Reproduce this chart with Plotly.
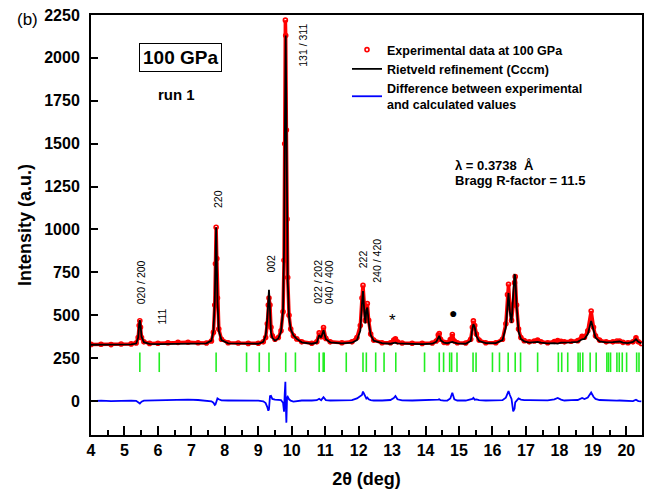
import plotly.graph_objects as go

# ---------------- data ----------------
two_theta = [4.00, 4.30, 4.60, 4.90, 5.20, 5.35, 5.41, 5.44, 5.46, 5.48, 5.51, 5.58, 5.75,
             6.00, 6.30, 6.60, 6.90, 7.20, 7.45, 7.60, 7.66, 7.70, 7.72, 7.74, 7.76, 7.78,
             7.82, 7.90, 8.10, 8.40, 8.70, 9.00, 9.15, 9.22, 9.27, 9.30, 9.32, 9.35, 9.38,
             9.42, 9.50, 9.60, 9.68, 9.74, 9.77, 9.79, 9.81, 9.82, 9.84, 9.86, 9.88, 9.92,
             9.97, 10.05, 10.15, 10.30, 10.60, 10.75, 10.82, 10.88, 10.95, 11.02, 11.15,
             11.50, 11.80, 11.95, 12.05, 12.10, 12.13, 12.17, 12.20, 12.23, 12.26, 12.30,
             12.36, 12.45, 12.70, 12.95, 13.05, 13.10, 13.16, 13.30, 13.60, 13.90, 14.20,
             14.32, 14.38, 14.41, 14.45, 14.55, 14.65, 14.74, 14.80, 14.86, 14.95, 15.20,
             15.35, 15.40, 15.43, 15.47, 15.52, 15.60, 15.80, 16.10, 16.30, 16.40, 16.45,
             16.48, 16.52, 16.57, 16.62, 16.66, 16.68, 16.72, 16.78, 16.85, 16.95, 17.10,
             17.25, 17.35, 17.45, 17.65, 17.85, 17.95, 18.05, 18.15, 18.35, 18.55, 18.68,
             18.75, 18.85, 18.95, 19.02, 19.08, 19.20, 19.40, 19.60, 19.72, 19.80, 19.90,
             20.05, 20.20, 20.29, 20.36, 20.45]

observed = [330, 331, 329, 332, 333, 338, 370, 440, 468, 430, 370, 345, 336,
            337, 340, 342, 343, 340, 338, 350, 400, 560, 800, 1013, 830, 600,
            420, 360, 340, 338, 336, 337, 345, 370, 450, 560, 600, 560, 430,
            380, 360, 370, 410, 520, 820, 1500, 2220, 2130, 1580, 1060, 720, 500,
            420, 380, 362, 345, 337, 345, 397, 375, 428, 365, 345,
            340, 345, 370, 440, 600, 674, 560, 470, 545, 568, 470,
            390, 355, 340, 340, 355, 362, 345, 338, 337, 336, 338,
            350, 385, 393, 360, 342, 340, 358, 388, 350, 340, 338,
            360, 430, 467, 440, 390, 355, 340, 340, 360, 450, 620,
            680, 560, 470, 560, 690, 725, 560, 420, 370, 352, 345,
            350, 355, 345, 340, 347, 352, 348, 345, 348, 352, 378,
            372, 410, 525, 430, 380, 355, 345, 345, 350, 350, 342,
            340, 345, 368, 345, 335]

calculated = [328, 328, 328, 329, 330, 335, 370, 450, 471, 445, 375, 343, 333,
              332, 333, 334, 335, 334, 336, 352, 410, 585, 830, 1013, 815, 580,
              410, 355, 336, 334, 333, 334, 345, 380, 480, 615, 648, 530, 400,
              368, 352, 365, 405, 530, 880, 1450, 2110, 2130, 1700, 1040, 700, 490,
              418, 383, 362, 342, 334, 340, 384, 370, 413, 360, 342,
              336, 340, 355, 410, 570, 641, 520, 452, 530, 545, 460,
              385, 352, 337, 334, 338, 340, 336, 334, 333, 332, 334,
              345, 375, 380, 355, 340, 337, 343, 345, 340, 336, 334,
              350, 420, 448, 430, 378, 350, 337, 338, 355, 430, 570,
              630, 520, 455, 620, 735, 733, 560, 405, 362, 348, 340,
              345, 345, 340, 336, 338, 335, 340, 342, 342, 345, 360,
              362, 390, 467, 405, 370, 348, 342, 343, 348, 347, 340,
              338, 345, 360, 345, 337]

difference = [0, 2, -1, 2, 2, 1, -5, -12, -15, -10, -4, 2, 3,
              4, 6, 8, 8, 6, 3, -2, -10, -23, -20, -8, 12, 15,
              10, 4, 3, 3, 2, 2, -2, -12, -35, -56, -48, 28, 30,
              12, 8, 5, 5, -10, -62, 40, 112, 0, -126, 20, 25, 10,
              2, -3, 0, 3, 3, 5, 13, 5, 22, 5, 3,
              3, 5, 15, 30, 35, 55, 35, 20, 15, 20, 10,
              5, 3, 3, 6, 17, 29, 10, 4, 3, 4, 3,
              5, 8, 10, 5, 2, 3, 15, 48, 10, 3, 3,
              10, 12, 18, 8, 10, 5, 3, 2, 5, 20, 50,
              58, 35, 12, -60, -45, -8, 0, 15, 8, 5, 5,
              5, 8, 5, 4, 10, 18, 8, 3, 5, 6, 18,
              12, 20, 50, 25, 12, 6, 3, 2, 2, 3, 2,
              2, 0, 8, 0, -2]

bragg_positions = [5.46, 6.04, 7.74, 8.65, 9.03, 9.32, 9.82, 10.11, 10.82, 10.94, 10.97,
                   11.63, 12.13, 12.23, 12.51, 12.76, 13.11, 13.97, 14.41, 14.54, 14.72,
                   14.78, 14.94, 15.42, 15.51, 16.00, 16.21, 16.47, 16.68, 16.84, 17.35,
                   17.97, 18.07, 18.25, 18.56, 18.62, 18.70, 18.92, 19.10, 19.42, 19.47,
                   19.53, 19.72, 19.79, 19.88, 20.01, 20.31, 20.38]
bragg_level = [226] * len(bragg_positions)

peak_labels = ["020 / 200", "111", "220", "002", "131 / 311",
               "022 / 202", "040 / 400", "222", "240 / 420"]
peak_label_x = [5.52, 6.11, 7.78, 9.38, 10.33, 10.78, 11.12, 12.14, 12.54]
peak_label_y = [691, 490, 1180, 801, 2075, 694, 694, 828, 816]

x_ticks = list(range(4, 21))
y_ticks = [0, 250, 500, 750, 1000, 1250, 1500, 1750, 2000, 2250]

FONT = "Liberation Sans, Arial, Helvetica, sans-serif"

fig = go.Figure()

# observed data drawn as a dense red band plus dots
fig.add_trace(go.Scatter(x=two_theta, y=observed, mode="lines",
                         line=dict(color="#ff0000", width=3.5), showlegend=False,
                         hoverinfo="skip"))
fig.add_trace(go.Scatter(x=two_theta, y=observed, mode="markers",
                         marker=dict(symbol="circle-open", color="#ff0000", size=4,
                                     line=dict(width=1.6, color="#ff0000")),
                         name="Experimental data at 100 GPa"))
fig.add_trace(go.Scatter(x=two_theta, y=calculated, mode="lines",
                         line=dict(color="black", width=1.8),
                         name="Rietveld refinement (Cccm)"))
fig.add_trace(go.Scatter(x=two_theta, y=difference, mode="lines",
                         line=dict(color="#0000ff", width=1.8),
                         name="Difference between experimental<br>and calculated values"))
fig.add_trace(go.Scatter(x=bragg_positions, y=bragg_level, mode="markers",
                         marker=dict(symbol="line-ns", size=14,
                                     line=dict(width=1.6, color="#22ee22")),
                         showlegend=False))

annotations = []
for t, xx, yy in zip(peak_labels, peak_label_x, peak_label_y):
    annotations.append(dict(x=xx, y=yy, text=t, textangle=-90, showarrow=False,
                            font=dict(family=FONT, size=10.5, color="black")))

annotations += [
    dict(x=13.0, y=470, text="*", showarrow=False,
         font=dict(family=FONT, size=17, color="black")),
    dict(x=14.82, y=511, text="●", showarrow=False,
         font=dict(family=FONT, size=14, color="black")),
    dict(x=6.68, y=2002, text="100 GPa", showarrow=False, bordercolor="black",
         borderwidth=1, borderpad=3,
         font=dict(family=FONT, size=19, color="black", weight="bold")),
    dict(x=6.57, y=1784, text="run 1", showarrow=False,
         font=dict(family=FONT, size=15, color="black", weight="bold")),
    dict(x=14.83, y=1372, text="λ = 0.3738  Å", showarrow=False, xanchor="left",
         font=dict(family=FONT, size=13, color="black", weight="bold")),
    dict(x=14.83, y=1288, text="Bragg R-factor = 11.5", showarrow=False, xanchor="left",
         font=dict(family=FONT, size=13, color="black", weight="bold")),
    dict(x=(27 - 91) / 551, y=1 + 7 / 420, xref="paper", yref="paper", text="(b)",
         showarrow=False, xanchor="center", yanchor="top",
         font=dict(family=FONT, size=17, color="black")),
]

# the page body adds an 8 px offset, so the figure is 8 px smaller and margins shifted
fig.update_layout(
    width=645, height=488,
    margin=dict(l=83, r=11, t=7, b=61),
    paper_bgcolor="white", plot_bgcolor="white",
    font=dict(family=FONT, color="black"),
    annotations=annotations,
    legend=dict(x=(347 - 91) / 551, y=1 - (35 - 15) / 420, xanchor="left", yanchor="top",
                bgcolor="rgba(0,0,0,0)", borderwidth=0,
                font=dict(family=FONT, size=12.5, color="black", weight="bold")),
    xaxis=dict(range=[4, 20.47], tickvals=x_ticks, ticktext=[str(v) for v in x_ticks],
               ticks="inside", ticklen=9, tickwidth=2, tickcolor="black",
               minor=dict(dtick=0.5, tick0=4, ticks="inside", ticklen=5, tickwidth=2,
                          tickcolor="black", showgrid=False),
               showline=True, linewidth=2, linecolor="black", mirror=True,
               showgrid=False, zeroline=False, automargin=False,
               tickfont=dict(family=FONT, size=16, color="black", weight="bold"),
               title=dict(text="2θ (deg)", standoff=14,
                          font=dict(family=FONT, size=18, color="black", weight="bold"))),
    yaxis=dict(range=[-198, 2250], tickvals=y_ticks, ticktext=[str(v) for v in y_ticks],
               ticks="inside", ticklen=7, tickwidth=2, tickcolor="black",
               showline=True, linewidth=2, linecolor="black", mirror=True,
               showgrid=False, zeroline=False, ticklabelstandoff=6, automargin=False,
               ticklabeloverflow="allow",
               tickfont=dict(family=FONT, size=16, color="black", weight="bold"),
               title=dict(text="Intensity (a.u.)", standoff=8,
                          font=dict(family=FONT, size=18, color="black", weight="bold"))),
)

fig.write_html("out.html")
